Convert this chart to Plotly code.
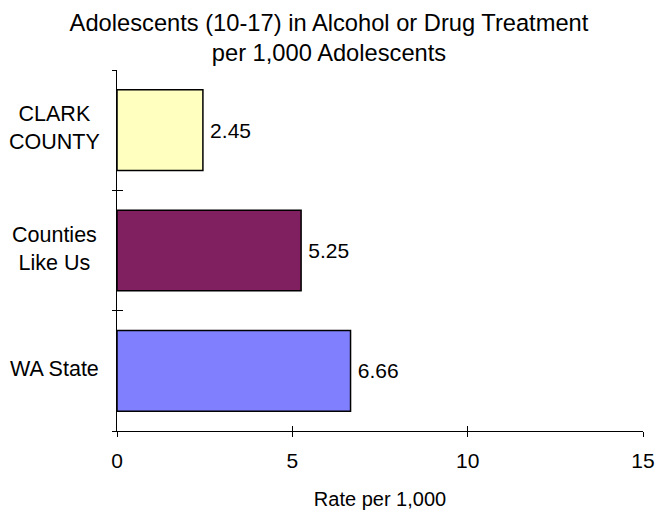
import plotly.graph_objects as go

categories = ["WA State", "Counties Like Us", "CLARK COUNTY"]
category_labels = ["WA State", "Counties<br>Like Us", "CLARK<br>COUNTY"]
values = [6.66, 5.25, 2.45]
bar_colors = ["#8080FF", "#802060", "#FFFFC0"]
x_ticks = [0, 5, 10, 15]

FONT = "Liberation Sans, Arial, sans-serif"
FIG_W, FIG_H = 658, 510

fig = go.Figure()
fig.add_trace(go.Bar(
    y=categories, x=values, orientation="h",
    marker=dict(color=bar_colors, line=dict(color="black", width=1.5)),
    texttemplate="\u2009%{x:.2f}", textposition="outside", cliponaxis=False,
    textfont=dict(size=21, color="black", family=FONT),
    width=0.67, hoverinfo="skip",
))
# empty trace to carry the overlay axes (inside half of crossing ticks)
fig.add_trace(go.Scatter(x=[], y=[], xaxis="x2", yaxis="y2", showlegend=False))

for cat, lab in zip(categories, category_labels):
    fig.add_annotation(x=-0.1179, xref="paper", y=cat, yref="y", text=lab,
                       showarrow=False, xanchor="center", align="center",
                       yshift=2,
                       font=dict(size=21.5, color="black", family=FONT))

fig.update_layout(
    template="none",
    width=FIG_W, height=FIG_H,
    margin=dict(l=117, r=15, t=70, b=79, pad=0),
    paper_bgcolor="white", plot_bgcolor="white",
    font=dict(family=FONT, size=21, color="black"),
    showlegend=False,
    title=dict(text="Adolescents (10-17) in Alcohol or Drug Treatment<br>per 1,000 Adolescents",
               x=0.5, xanchor="center", y=1 - 30.5 / FIG_H, yanchor="top",
               font=dict(size=23.7, family=FONT, color="black")),
    xaxis=dict(range=[0, 15], tickvals=x_ticks, showgrid=False, zeroline=False,
               showline=True, linecolor="black", linewidth=1, automargin=False,
               ticks="outside", ticklen=5, tickcolor="black", tickwidth=1,
               ticklabelstandoff=6, ticklabeloverflow="allow",
               title=dict(text="Rate per 1,000", font=dict(size=20), standoff=21),
               tickfont=dict(size=21)),
    yaxis=dict(type="category", categoryarray=categories, range=[-0.5, 2.5],
               showgrid=False, zeroline=False, showline=True, linecolor="black",
               linewidth=1, ticks="outside", ticklen=4, tickcolor="black", tickwidth=1,
               tickson="boundaries", showticklabels=False, automargin=False),
    xaxis2=dict(overlaying="x", anchor="y2", range=[0, 15], tickvals=x_ticks,
                ticks="inside", ticklen=5, tickcolor="black", tickwidth=1, side="bottom",
                showticklabels=False, showgrid=False, zeroline=False, showline=False,
                automargin=False),
    yaxis2=dict(overlaying="y", anchor="x2", range=[-0.5, 2.5],
                tickvals=[-0.5, 0.5, 1.5, 2.5], ticks="inside", ticklen=6,
                tickcolor="black", tickwidth=1, side="left", showticklabels=False,
                showgrid=False, zeroline=False, showline=False, automargin=False),
)

fig.write_html(
    "out.html",
    config={"displayModeBar": False, "staticPlot": True},
    post_script="document.body.style.margin='0';"
                "document.documentElement.style.overflow='hidden';",
)
